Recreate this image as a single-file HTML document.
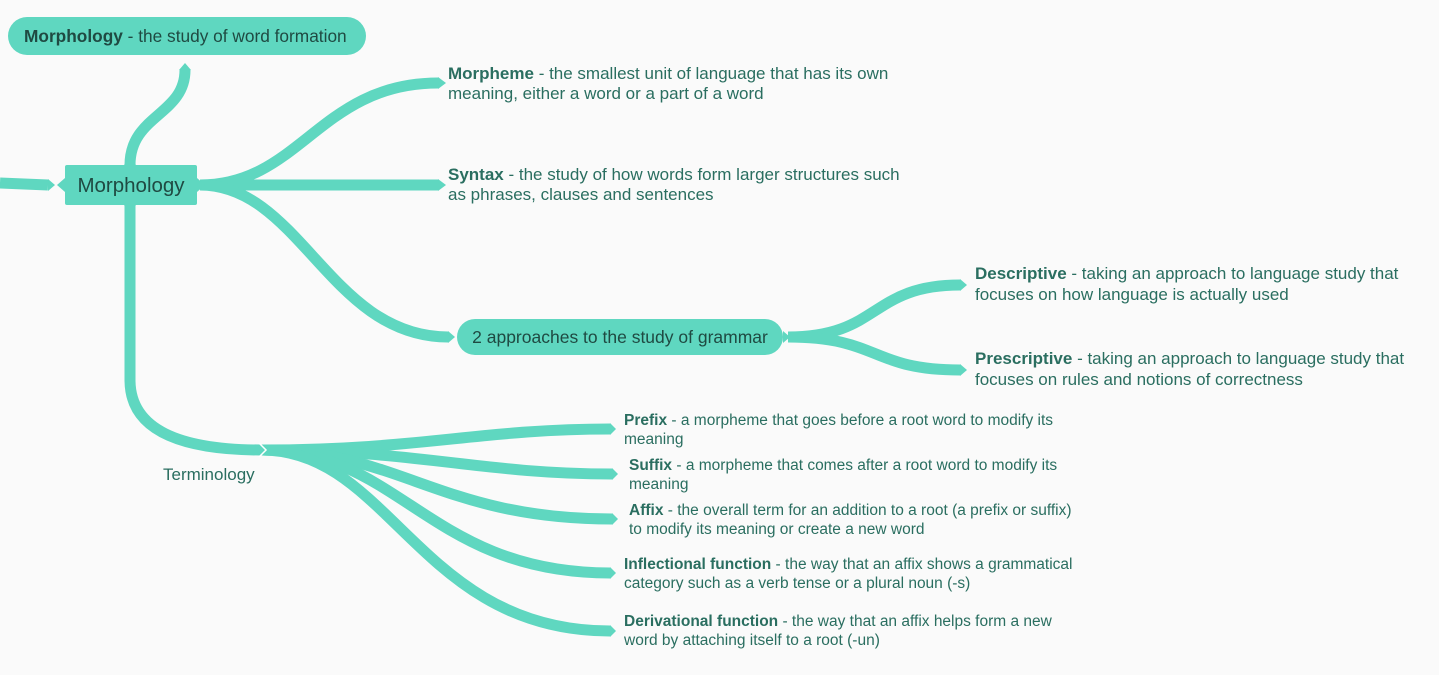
<!DOCTYPE html>
<html><head><meta charset="utf-8"><style>
html,body{margin:0;padding:0;background:#fafafa;}
svg{display:block;font-family:"Liberation Sans",Arial,sans-serif;}
.t{fill:#2a6e60;font-size:17px;}
.s{fill:#2a6e60;font-size:15.5px;}
</style></head><body>
<svg width="1439" height="675" viewBox="0 0 1439 675">
<g fill="none" stroke="#5fd7c0" stroke-width="11" stroke-linecap="butt">
<path d="M0,183 L48,185"/>
<path d="M130,165 C130,115 185,115 185,70"/>
<path d="M200,185 C300,185 320,83 438,83"/>
<path d="M200,185 L438,185"/>
<path d="M200,185 C300,185 330,337 448,337"/>
<path d="M788,337 C880,337 870,285 960,285"/>
<path d="M788,337 C880,337 870,370 960,370"/>
<path d="M130,205 L130,380 C130,430 180,450 262,450"/>
<path d="M262,450 C420,450 480,429 610,429"/>
<path d="M262,450 C420,450 480,474 612,474"/>
<path d="M262,450 C400,450 440,519 612,519"/>
<path d="M262,450 C400,450 430,573 610,573"/>
<path d="M262,450 C390,450 420,631 610,631"/>
</g>
<g fill="#5fd7c0">
<polygon points="48,179 55,185 48,191"/>
<polygon points="179,70 185,63 191,70"/>
<polygon points="438,77 446,83 438,89"/>
<polygon points="438,179 446,185 438,191"/>
<polygon points="448,331 455,337 448,343"/>
<polygon points="960,279 967,285 960,291"/>
<polygon points="960,364 967,370 960,376"/>
<polygon points="610,423 616,429 610,435"/>
<polygon points="612,468 618,474 612,480"/>
<polygon points="612,513 618,519 612,525"/>
<polygon points="610,567 616,573 610,579"/>
<polygon points="610,625 616,631 610,637"/>
<rect x="8" y="17" width="358" height="38" rx="19"/>
<rect x="65" y="165" width="132" height="40" rx="2"/>
<polygon points="130,157 136,165 124,165"/>
<polygon points="130,213 136,205 124,205"/>
<polygon points="57,185 65,178 65,192"/>
<polygon points="205,185 197,178 197,192"/>
<rect x="457" y="319" width="326" height="36" rx="18"/>
<polygon points="790,337 783,331 783,343"/>
</g>
<path d="M259,443 L266,450 L259,457" fill="none" stroke="#fff" stroke-width="1.5"/>
<text x="24" y="42" style="font-size:17.3px;fill:#1f4a42"><tspan font-weight="bold">Morphology</tspan> - the study of word formation</text>
<text x="131" y="192" text-anchor="middle" style="font-size:20.5px;fill:#1f4a42">Morphology</text>
<text x="620" y="343" text-anchor="middle" style="font-size:17.5px;fill:#1f4a42">2 approaches to the study of grammar</text>
<text x="163" y="480" class="t">Terminology</text>
<text class="t"><tspan x="448" y="79"><tspan font-weight="bold">Morpheme</tspan> - the smallest unit of language that has its own</tspan><tspan x="448" y="99">meaning, either a word or a part of a word</tspan></text>
<text class="t"><tspan x="448" y="180"><tspan font-weight="bold">Syntax</tspan> - the study of how words form larger structures such</tspan><tspan x="448" y="200">as phrases, clauses and sentences</tspan></text>
<text class="t"><tspan x="975" y="279"><tspan font-weight="bold">Descriptive</tspan> - taking an approach to language study that</tspan><tspan x="975" y="300">focuses on how language is actually used</tspan></text>
<text class="t"><tspan x="975" y="364"><tspan font-weight="bold">Prescriptive</tspan> - taking an approach to language study that</tspan><tspan x="975" y="385">focuses on rules and notions of correctness</tspan></text>
<text class="s"><tspan x="624" y="425"><tspan font-weight="bold">Prefix</tspan> - a morpheme that goes before a root word to modify its</tspan><tspan x="624" y="444">meaning</tspan></text>
<text class="s"><tspan x="629" y="470"><tspan font-weight="bold">Suffix</tspan> - a morpheme that comes after a root word to modify its</tspan><tspan x="629" y="489">meaning</tspan></text>
<text class="s"><tspan x="629" y="515"><tspan font-weight="bold">Affix</tspan> - the overall term for an addition to a root (a prefix or suffix)</tspan><tspan x="629" y="534">to modify its meaning or create a new word</tspan></text>
<text class="s"><tspan x="624" y="569"><tspan font-weight="bold">Inflectional function</tspan> - the way that an affix shows a grammatical</tspan><tspan x="624" y="588">category such as a verb tense or a plural noun (-s)</tspan></text>
<text class="s"><tspan x="624" y="626"><tspan font-weight="bold">Derivational function</tspan> - the way that an affix helps form a new</tspan><tspan x="624" y="645">word by attaching itself to a root (-un)</tspan></text>
</svg>
</body></html>
